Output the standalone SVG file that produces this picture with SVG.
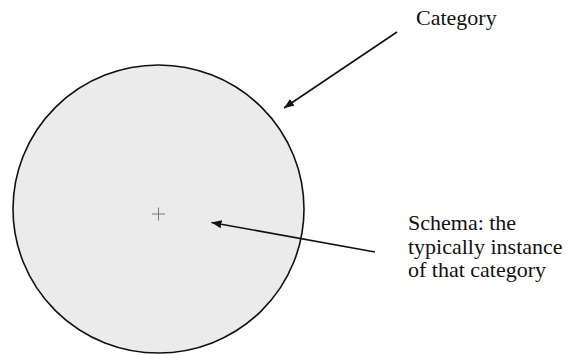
<svg xmlns="http://www.w3.org/2000/svg" width="577" height="355" viewBox="0 0 577 355">
<defs>
<style>
.lbl{font-family:"Liberation Serif","Times New Roman",serif;font-size:22px;fill:#111}
.conn{stroke:#111;stroke-width:1.6;fill:none}
</style>
<marker id="ah" viewBox="0 0 10 8" refX="10" refY="4" markerWidth="10" markerHeight="8" markerUnits="userSpaceOnUse" orient="auto">
<path d="M0,0 L10,4 L0,8 Z" fill="#111"/>
</marker>
</defs>
<rect width="577" height="355" fill="#fff"/>
<g id="category">
<ellipse cx="158.5" cy="209" rx="145.5" ry="144" fill="#ebebeb" stroke="#111" stroke-width="1.6"/>
<path d="M152,214 H165 M158.5,207.5 V220.5" stroke="#777" stroke-width="1"/>
</g>
<g id="category-label">
<text class="lbl" x="416" y="25">Category</text>
</g>
<g id="schema-label">
<text class="lbl" x="408" y="230">Schema: the</text>
<text class="lbl" x="408" y="253.5">typically instance</text>
<text class="lbl" x="408" y="277">of that category</text>
</g>
<g id="connectors">
<line class="conn" x1="397" y1="32" x2="284" y2="108" marker-end="url(#ah)"/>
<line class="conn" x1="375" y1="252" x2="211.5" y2="222.5" marker-end="url(#ah)"/>
</g>
</svg>
